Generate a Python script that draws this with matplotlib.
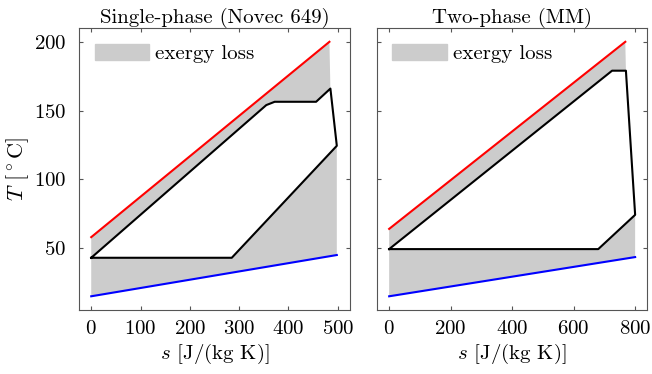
import numpy as np
import matplotlib
matplotlib.use('Agg')
import matplotlib.pyplot as plt
from matplotlib.patches import Patch

plt.rcParams['font.family'] = 'serif'
plt.rcParams['font.serif'] = ['cmr10']
plt.rcParams['mathtext.fontset'] = 'cm'
plt.rcParams['axes.formatter.use_mathtext'] = True
plt.rcParams['font.size'] = 15

# single-phase cycle (Novec 649)
hot_s1 = [0, 483]
hot_T1 = [58, 200]
cold_s1 = [0, 498]
cold_T1 = [15, 45]
cyc_s1 = [0, 285, 498, 485, 456, 372, 355, 0]
cyc_T1 = [43, 43, 124.4, 166, 156.4, 156.4, 154, 43]

# two-phase cycle (MM)
hot_s2 = [0, 768]
hot_T2 = [64, 200]
cold_s2 = [0, 800]
cold_T2 = [15, 43.5]
cyc_s2 = [0, 680, 800, 770, 725, 0]
cyc_T2 = [49.3, 49.3, 74.2, 179, 179, 49.3]

loss_color = '#cccccc'
frame_color = '#555555'


def draw_panel(ax, hs, hT, cs, cT, ys, yT, right_idx, title, xticks, xlim):
    # exergy loss region: hot line, right side of the cycle, cold line back
    poly_s = list(hs) + [ys[i] for i in right_idx] + list(cs[::-1])
    poly_T = list(hT) + [yT[i] for i in right_idx] + list(cT[::-1])
    ax.fill(poly_s, poly_T, color=loss_color, lw=0)
    ax.fill(ys, yT, color='white', lw=0)
    ax.plot(hs, hT, color='red', lw=1.5)
    ax.plot(cs, cT, color='blue', lw=1.5)
    ax.plot(ys, yT, color='black', lw=1.5)
    ax.set_xlim(xlim)
    ax.set_ylim(5, 210)
    ax.set_xticks(xticks)
    ax.set_yticks([50, 100, 150, 200])
    ax.set_title(title, fontsize=15, pad=4)
    ax.set_xlabel(r'$s$ [J/(kg K)]', labelpad=3)
    ax.tick_params(direction='in', top=True, right=True, length=3,
                   color=frame_color)
    ax.tick_params(axis='x', pad=7)
    ax.tick_params(axis='y', pad=9)
    for sp in ax.spines.values():
        sp.set_color(frame_color)
    ax.legend(handles=[Patch(color=loss_color, label='exergy loss')],
              loc='upper left', frameon=False, handlelength=2.6,
              handleheight=0.8, handletextpad=0.3, borderaxespad=0.45,
              borderpad=0.3)


fig = plt.figure(figsize=(6.52, 3.74), dpi=100)
ax1 = fig.add_axes([0.121, 0.171, 0.416, 0.754])
ax2 = fig.add_axes([0.578, 0.171, 0.415, 0.754])

draw_panel(ax1, hot_s1, hot_T1, cold_s1, cold_T1, cyc_s1, cyc_T1, [3, 2],
           'Single-phase (Novec 649)', [0, 100, 200, 300, 400, 500], (-25, 525))
draw_panel(ax2, hot_s2, hot_T2, cold_s2, cold_T2, cyc_s2, cyc_T2, [3, 2],
           'Two-phase (MM)', [0, 200, 400, 600, 800], (-40, 840))

ax1.set_ylabel(r'$T$ [$^\circ$C]', fontsize=16, labelpad=2)
ax2.set_yticklabels([])

fig.savefig('out.png', dpi=100)
